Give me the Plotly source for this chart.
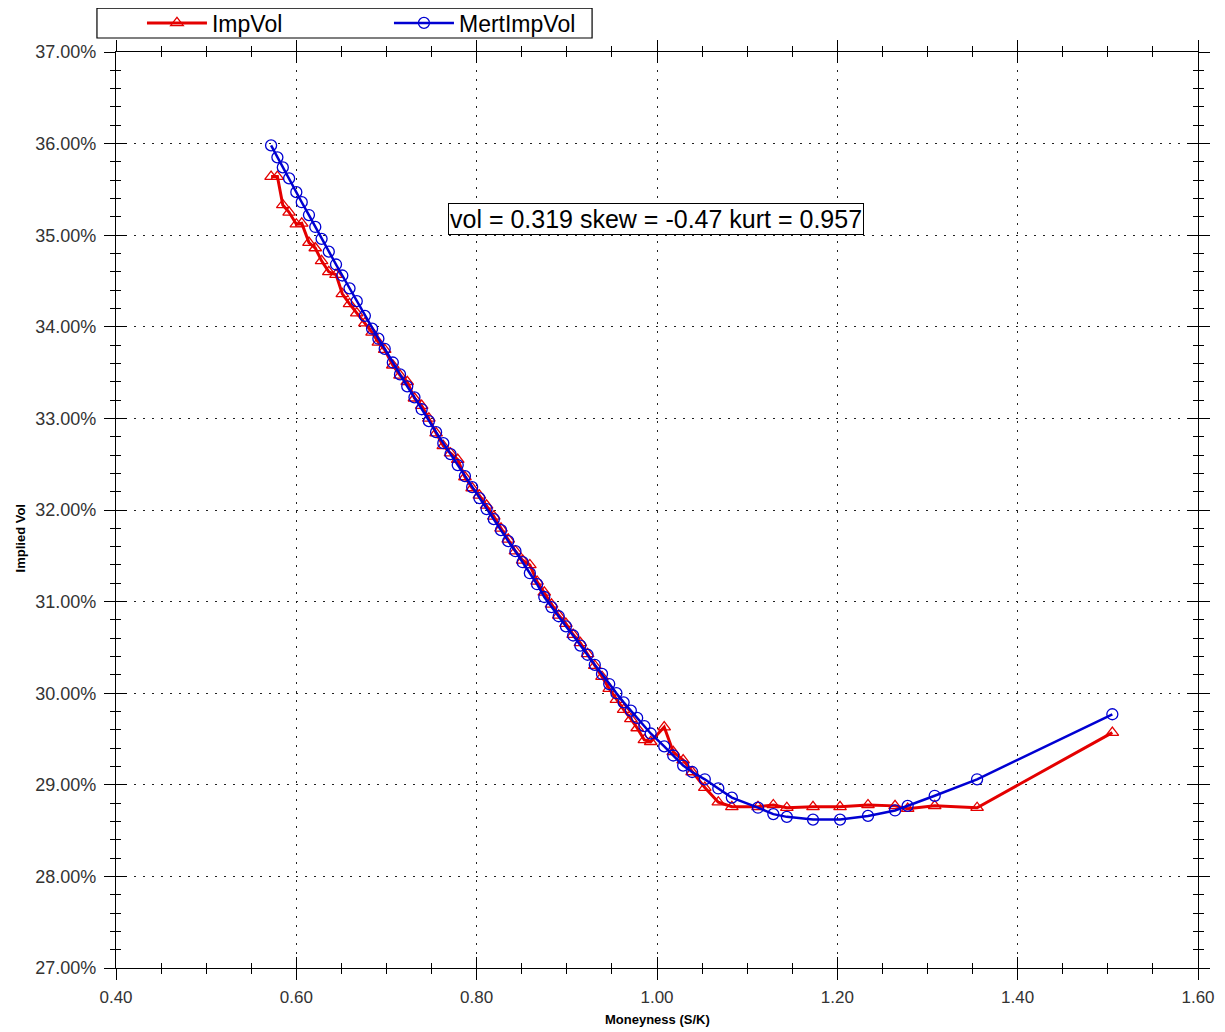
import plotly.graph_objects as go

# moneyness (S/K) of each strike
moneyness = [
    0.572, 0.579, 0.585, 0.592, 0.600, 0.606, 0.614, 0.621, 0.628, 0.636,
    0.644, 0.651, 0.659, 0.667, 0.676, 0.684, 0.691, 0.698, 0.707, 0.715,
    0.723, 0.731, 0.739, 0.747, 0.755, 0.763, 0.771, 0.779, 0.787, 0.795,
    0.803, 0.811, 0.819, 0.827, 0.835, 0.843, 0.851, 0.859, 0.867, 0.875,
    0.883, 0.891, 0.899, 0.907, 0.915, 0.923, 0.931, 0.939, 0.947, 0.955,
    0.963, 0.971, 0.978, 0.986, 0.993, 1.008, 1.018, 1.029, 1.039, 1.053,
    1.068, 1.083, 1.112, 1.129, 1.144, 1.173, 1.203, 1.234, 1.264, 1.278,
    1.308, 1.355, 1.505,
]

# market implied vol (%)
imp_vol = [
    35.64, 35.64, 35.33, 35.25, 35.12, 35.13, 34.92, 34.86, 34.72, 34.60,
    34.57, 34.36, 34.25, 34.15, 34.04, 33.94, 33.83, 33.75, 33.58, 33.47,
    33.40, 33.22, 33.14, 33.00, 32.84, 32.70, 32.62, 32.55, 32.36, 32.24,
    32.16, 32.05, 31.93, 31.80, 31.68, 31.55, 31.45, 31.40, 31.22, 31.10,
    30.97, 30.85, 30.76, 30.64, 30.55, 30.43, 30.30, 30.18, 30.05, 29.93,
    29.82, 29.72, 29.62, 29.49, 29.47, 29.63, 29.36, 29.27, 29.14, 28.97,
    28.81, 28.76, 28.76, 28.78, 28.75, 28.76, 28.76, 28.78, 28.77, 28.74,
    28.77, 28.75, 29.57,
]

# Merton model implied vol (%)
mert_imp_vol = [
    35.98, 35.85, 35.74, 35.62, 35.47, 35.36, 35.22, 35.09, 34.96, 34.82,
    34.68, 34.56, 34.42, 34.28, 34.12, 33.98, 33.87, 33.76, 33.61, 33.48,
    33.35, 33.23, 33.10, 32.97, 32.85, 32.73, 32.61, 32.49, 32.37, 32.25,
    32.13, 32.01, 31.90, 31.78, 31.66, 31.55, 31.43, 31.31, 31.19, 31.05,
    30.94, 30.84, 30.73, 30.63, 30.52, 30.42, 30.31, 30.21, 30.10, 30.00,
    29.90, 29.81, 29.73, 29.64, 29.56, 29.42, 29.32, 29.21, 29.14, 29.06,
    28.96, 28.86, 28.75, 28.68, 28.65, 28.62, 28.62, 28.66, 28.72, 28.77,
    28.88, 29.06, 29.77,
]

RED = "rgb(228,0,0)"
BLUE = "rgb(0,0,210)"
FONT = "Arial, Liberation Sans, sans-serif"

fig = go.Figure()
fig.add_trace(go.Scatter(
    x=moneyness, y=imp_vol, name="ImpVol", mode="lines+markers",
    line=dict(color=RED, width=3),
    marker=dict(symbol="triangle-up-open", size=11, color=RED, line=dict(width=1.3)),
))
fig.add_trace(go.Scatter(
    x=moneyness, y=mert_imp_vol, name="MertImpVol", mode="lines+markers",
    line=dict(color=BLUE, width=2.5),
    marker=dict(symbol="circle-open", size=11, color=BLUE, line=dict(width=1.3)),
))
# dummy trace so the overlay axes (inside tick halves) get drawn
fig.add_trace(go.Scatter(x=[1.0], y=[30.0], xaxis="x2", yaxis="y2",
                         mode="markers", marker=dict(opacity=0),
                         showlegend=False, hoverinfo="skip"))

fig.add_annotation(
    x=0.999, y=35.18, xref="x", yref="y",
    text="vol = 0.319 skew = -0.47 kurt = 0.957",
    showarrow=False, font=dict(family=FONT, size=25, color="black"),
    bgcolor="white", bordercolor="black", borderwidth=1, borderpad=1,
)
# axis titles
fig.add_annotation(x=0.5, y=-0.0557, xref="paper", yref="paper",
                   xanchor="center", yanchor="middle",
                   text="<b>Moneyness (S/K)</b>", showarrow=False,
                   font=dict(family=FONT, size=13, color="black"))
fig.add_annotation(x=-0.0887, y=0.469, xref="paper", yref="paper",
                   xanchor="center", yanchor="middle",
                   text="<b>Implied Vol</b>", showarrow=False, textangle=-90,
                   font=dict(family=FONT, size=13, color="black"))

# legend frame
fig.add_shape(type="rect", xref="paper", yref="paper",
              x0=-0.0176, x1=0.44, y0=1.0153, y1=1.048,
              line=dict(color="black", width=1.2), fillcolor="white", layer="below")

grid = dict(showgrid=True, gridcolor="#222", gridwidth=1, griddash="2px,7px")
common = dict(showline=True, linecolor="black", linewidth=1.2, zeroline=False,
              ticks="outside", ticklen=11, tickcolor="black", tickwidth=1.2,
              automargin=False)

fig.update_layout(
    width=1217, height=1024,
    margin=dict(l=108, r=27, t=44, b=64, autoexpand=False),
    plot_bgcolor="white", paper_bgcolor="white",
    font=dict(family=FONT, color="black"),
    xaxis=dict(range=[0.4, 1.6], dtick=0.2, tick0=0.4, tickformat=".2f",
               mirror="allticks", ticklabelstandoff=2,
               tickfont=dict(family=FONT, size=17, color="#333"),
               minor=dict(dtick=0.05, ticks="outside", ticklen=5,
                          tickcolor="black", showgrid=False),
               **grid, **common),
    yaxis=dict(range=[27, 37], dtick=1, tick0=27, tickformat=".2f",
               ticksuffix="%", mirror="allticks", ticklabelstandoff=4,
               tickfont=dict(family=FONT, size=18, color="#333"),
               minor=dict(dtick=0.2, ticks="outside", ticklen=5,
                          tickcolor="black", showgrid=False),
               **grid, **common),
    xaxis2=dict(overlaying="x", anchor="y2", range=[0.4, 1.6], dtick=0.2,
                tick0=0.4, ticks="inside", ticklen=11, tickwidth=1.2,
                tickcolor="black", mirror="allticks", showticklabels=False,
                showgrid=False, zeroline=False, showline=False,
                minor=dict(dtick=0.05, ticks="inside", ticklen=5,
                           tickcolor="black")),
    yaxis2=dict(overlaying="y", anchor="x2", range=[27, 37], dtick=1,
                tick0=27, ticks="inside", ticklen=11, tickwidth=1.2,
                tickcolor="black", mirror="allticks", showticklabels=False,
                showgrid=False, zeroline=False, showline=False,
                minor=dict(dtick=0.2, ticks="inside", ticklen=5,
                           tickcolor="black")),
    legend=dict(orientation="h", x=0.024, xanchor="left", y=1.0317,
                yanchor="middle", bgcolor="rgba(0,0,0,0)", borderwidth=0,
                entrywidth=172, entrywidthmode="pixels", itemwidth=60,
                font=dict(family=FONT, size=23, color="black")),
    showlegend=True,
)

fig.write_html("out.html")
